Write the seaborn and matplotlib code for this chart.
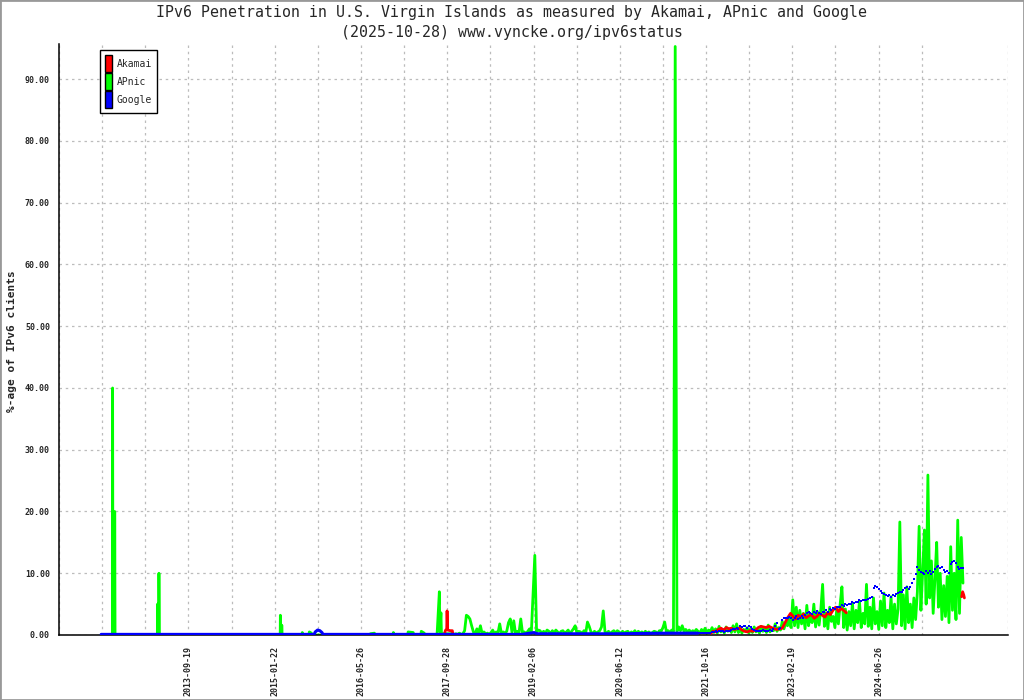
import pandas as pd
import matplotlib
matplotlib.use("Agg")
import matplotlib.pyplot as plt
import matplotlib.dates as mdates
from matplotlib.patches import Patch, Rectangle
from matplotlib.ticker import FormatStrFormatter
import seaborn as sns

# labelled dates on the x axis
tick_labels = ["2013-09-19", "2015-01-22", "2016-05-26", "2017-09-28", "2019-02-06",
               "2020-06-12", "2021-10-16", "2023-02-19", "2024-06-26"]

# APnic: early spikes read as daily points
apnic_early_dates = [
    "2012-05-10", "2012-07-13", "2012-07-14", "2012-07-16", "2012-07-25", "2012-07-26", "2012-07-28",
    "2013-03-26", "2013-03-27", "2013-03-29", "2013-04-03", "2013-04-04", "2013-04-06",
    "2015-02-24", "2015-02-25", "2015-02-27", "2015-03-04", "2015-03-05", "2015-03-07",
    "2015-06-28", "2015-06-30", "2015-07-03", "2015-08-07", "2015-08-09", "2015-08-21", "2015-08-24",
    "2016-07-20", "2016-07-22", "2016-08-14", "2016-08-17", "2016-11-28", "2016-11-30", "2016-12-03",
    "2017-02-20", "2017-02-22", "2017-03-23", "2017-03-26", "2017-05-06", "2017-05-08", "2017-05-25",
    "2017-05-28", "2017-08-05", "2017-08-07", "2017-08-19", "2017-08-22", "2017-08-28", "2017-08-31",
    "2017-10-20",
]
apnic_early_values = [
    0, 0, 40, 0, 0, 20, 0,
    0, 5, 0, 0, 10, 0,
    0, 3.2, 0.3, 0.3, 1.6, 0,
    0, 0.4, 0, 0, 0.5, 0.3, 0,
    0, 0.2, 0.3, 0, 0, 0.4, 0,
    0, 0.5, 0.4, 0, 0, 0.6, 0.3,
    0, 0, 0.6, 7.0, 0.5, 3.6, 0.2,
    0.2,
]

# APnic: 10-day samples from 2017-11-01 to 2025-10-28
apnic_grid_start = "2017-11-01"
apnic_grid_values = [
    0.3, 0.1, 0.2, 0.1, 0.3, 0.1, 0.2,
    0.7, 3.2, 3.0, 2.6, 1.5, 0.5,
    0.2, 1.0, 0.3, 1.5, 0.2, 0.5, 0.2,
    0.3, 0.1, 0.4, 0.8, 0.2, 0.5, 0.3, 1.8, 0.2, 0.5,
    0.3, 0.6, 2.0, 2.6, 0.4, 2.3, 0.3, 0.6, 0.4, 2.6,
    0.3, 0.5, 0.2, 0.6, 1.0, 0.3, 6.8, 12.9, 0.5, 0.8,
    0.7, 0.2, 0.6, 0.3, 0.8, 0.6, 0.2, 0.7, 0.3, 0.8,
    0.5, 0.2, 0.6, 0.7, 0.3, 0.5, 0.8, 0.2, 0.6, 1.0,
    1.5, 0.3, 0.6, 0.5, 0.2, 0.7, 0.3, 2.1, 1.4, 0.5,
    0.2, 0.6, 0.3, 0.5, 0.7, 1.3, 3.9, 0.5, 0.3, 0.6,
    0.2, 0.5, 0.7, 0.3, 0.7, 0.5, 0.2, 0.6, 0.3, 0.5,
    0.6, 0.2, 0.5, 0.3, 0.7, 0.2, 0.6, 0.3, 0.5, 0.2,
    0.6, 0.3, 0.5, 0.2, 0.4, 0.6, 0.5, 0.2, 0.7, 0.6,
    1.2, 2.1, 0.5, 0.7, 0.4, 0.8, 0.5, 95.3, 0.6, 1.3,
    0.7, 1.5, 0.6, 0.9, 0.5, 0.8, 0.4, 0.7, 0.5, 0.9,
    # 2021-09 onwards
    0.6, 0.3, 0.9, 0.4, 1.1, 0.3, 0.8, 0.5, 1.2,
    0.4, 1.0, 0.3, 1.4, 0.5, 0.9, 0.3, 1.3, 0.6, 1.0, 0.4, 1.5,
    0.5, 1.8, 0.4, 1.1, 0.3, 0.9, 0.6, 1.2, 0.3, 1.0,
    0.4, 1.3, 0.5, 0.9, 0.3, 1.4, 0.6, 1.1, 0.4, 1.6, 0.5, 1.0, 0.7, 1.8, 0.6, 1.2, 0.8, 2.2, 1.0, 2.0,
    1.5, 3.0, 1.2, 5.7, 1.5, 4.5,
    1.2, 4.0, 1.8, 3.5, 1.0, 4.8, 1.5, 3.2, 2.0, 5.0, 1.3, 3.8, 1.6, 4.2, 8.2, 1.4, 3.6, 1.0, 4.5, 2.2,
    3.0, 1.2, 4.0, 1.8,
    5.0, 7.8, 1.2, 4.2, 0.8, 3.8, 1.5, 5.2, 1.0, 4.0, 2.0, 5.5, 1.2, 3.5, 1.8,
    8.2, 1.4, 4.5, 1.0, 6.0, 1.8, 3.8, 0.9, 5.5, 1.5, 6.8, 1.2, 4.0, 2.0, 6.2, 1.0, 5.0, 1.8, 4.2, 18.3,
    1.5, 6.5, 1.0, 7.8, 2.0, 5.0, 1.2, 6.0, 2.5, 7.0,
    17.6, 4.0, 10.0, 17.0, 5.0, 25.9,
    6.0, 12.0, 3.5, 9.0, 15.0, 4.5, 10.0, 2.5, 8.0,
    3.0, 9.5, 2.0, 14.3, 4.0, 10.0, 2.5, 18.6, 3.5, 15.8, 8.4,
]

# Akamai
akamai_2017_dates = ["2017-09-18", "2017-09-22", "2017-09-30", "2017-10-02", "2017-10-05",
                     "2017-10-20", "2017-11-01", "2017-11-04"]
akamai_2017_values = [0.2, 0.7, 1.0, 3.9, 0.8, 0.7, 0.7, 0.1]

akamai_late_dates = [
    "2021-11-15", "2021-11-25", "2021-12-10", "2021-12-25", "2022-01-10", "2022-01-25", "2022-02-10",
    "2022-02-25", "2022-03-10", "2022-03-25", "2022-04-10", "2022-04-25", "2022-05-10", "2022-05-25",
    "2022-06-10", "2022-06-25", "2022-07-10", "2022-07-25", "2022-08-10", "2022-08-25", "2022-09-10",
    "2022-09-25", "2022-10-10", "2022-10-25", "2022-11-10", "2022-11-25", "2022-12-10", "2022-12-25",
    "2023-01-10", "2023-01-25", "2023-02-10", "2023-02-25", "2023-03-10", "2023-03-25", "2023-04-10",
    "2023-04-25", "2023-05-10", "2023-05-25", "2023-06-10", "2023-06-25", "2023-07-10", "2023-07-25",
    "2023-08-10", "2023-08-25", "2023-09-10", "2023-09-25", "2023-10-10", "2023-10-25", "2023-11-10",
    "2023-11-25", "2023-12-10", "2023-12-25",
]
akamai_late_values = [
    0.3, 0.6, 0.5, 0.9, 1.1, 0.8, 1.2,
    1.0, 1.1, 0.9, 1.0, 1.1, 0.8, 0.6,
    0.5, 0.7, 0.6, 0.8, 1.2, 1.4, 1.3,
    1.2, 1.4, 1.2, 1.0, 0.9, 1.0, 1.1,
    2.0, 2.8, 3.5, 3.0, 2.6, 3.2, 2.9,
    3.4, 2.8, 3.1, 3.3, 2.7, 3.0, 3.5,
    3.2, 2.9, 3.6, 3.3, 4.0, 4.5, 3.8,
    4.3, 4.0, 3.6,
]
akamai_end_dates = ["2025-10-12", "2025-10-18", "2025-10-24", "2025-10-28"]
akamai_end_values = [6.2, 7.0, 6.5, 6.0]

# Google
google_early_dates = ["2012-05-10", "2015-09-05", "2015-09-12", "2015-09-25", "2015-10-08",
                      "2015-10-20", "2015-10-26", "2018-12-01", "2019-02-10", "2019-03-01",
                      "2020-06-01", "2021-03-01", "2021-08-31"]
google_early_values = [0.1, 0.1, 0.5, 0.8, 0.7, 0.4, 0.1, 0.1, 0.4, 0.2, 0.2, 0.3, 0.3]

google_grid_start = "2021-09-01"
google_grid_values = [
    0.3, 0.3, 0.4, 0.3, 0.3, 0.4, 0.3, 0.4, 0.5,
    0.5, 0.6, 0.5, 0.6, 0.7, 0.6, 0.5, 0.6, 0.7, 0.6, 0.8, 0.9,
    1.0, 1.2, 1.0, 1.4, 1.3, 1.5, 1.4, 1.2, 1.5, 1.3,
    0.9, 0.8, 0.7, 0.7, 0.6, 0.7, 0.8, 0.7, 0.6, 0.7, 0.8, 0.7, 0.9, 1.5, 2.0, 1.0, 1.2, 2.5, 2.8, 2.7,
    2.8, 2.9, 2.7, 2.5, 2.8, 3.0,
    2.6, 2.8, 3.0, 2.7, 3.2, 3.5, 3.8, 3.6, 3.4, 3.7, 3.5, 3.9, 3.6, 3.4, 3.8, 3.7, 4.0, 3.8, 4.2, 4.0,
    4.4, 4.2, 4.6, 4.5,
    4.6, 4.8, 4.7, 5.0, 4.9, 5.1, 5.0, 5.3, 5.2, 5.4, 5.3, 5.6, 5.5, 5.7, 5.6,
    5.7, 5.8, 6.0, 6.2,
    7.6, 8.0, 7.8, 7.4, 7.2,
    6.8, 6.6, 6.5, 6.3, 6.4, 6.2, 6.5, 6.3, 6.6, 6.8, 7.0, 6.9,
    7.3, 7.6, 7.8, 7.5, 7.7, 8.5, 9.0, 9.8, 11.0,
    10.5, 10.2, 10.0, 9.8, 10.3, 10.1, 10.4, 9.9, 10.2,
    10.7, 11.0, 11.2, 10.8, 11.0, 10.5, 10.2,
    10.3, 10.0, 11.5, 11.8, 12.0, 11.6, 11.0, 10.7, 10.9, 10.8,
]

# build tables

def series(dates, values):
    return pd.DataFrame({"date": pd.to_datetime(dates), "value": values})


def grid_series(start, values):
    return pd.DataFrame({"date": pd.date_range(start, periods=len(values), freq="10D"), "value": values})


apnic = pd.concat([series(apnic_early_dates, apnic_early_values),
                   grid_series(apnic_grid_start, apnic_grid_values)], ignore_index=True)
akamai_parts = [series(akamai_2017_dates, akamai_2017_values),
                series(akamai_late_dates, akamai_late_values),
                series(akamai_end_dates, akamai_end_values)]
google_early = series(google_early_dates, google_early_values)
google_late = grid_series(google_grid_start, google_grid_values)

# plot

sns.set_style("white")
plt.rcParams["font.family"] = ["DejaVu Sans Mono"]

GREEN, RED, BLUE = "#00ff00", "#ff0000", "#0000ff"

fig = plt.figure(figsize=(10.24, 7.0), dpi=100)
ax = fig.add_axes([59 / 1024, 65 / 700, 949 / 1024, 591 / 700])

sns.lineplot(data=apnic, x="date", y="value", color=GREEN, linewidth=2.0, estimator=None, ax=ax, zorder=2)
for part in akamai_parts:
    sns.lineplot(data=part, x="date", y="value", color=RED, linewidth=2.0, estimator=None, ax=ax, zorder=3)
sns.lineplot(data=google_early, x="date", y="value", color=BLUE, linewidth=2.2, estimator=None, ax=ax, zorder=4)
sns.scatterplot(data=google_late, x="date", y="value", color=BLUE, marker="s", s=4.5, linewidth=0, ax=ax, zorder=4)

# x axis: labelled ticks plus one unlabelled tick between each pair
first = pd.Timestamp(tick_labels[0])
last = pd.Timestamp(tick_labels[-1])
step = (last - first) / (len(tick_labels) - 1)
major = [first + step * k for k in range(len(tick_labels))]
minor = [first + step * (k / 2) for k in range(-3, 2 * (len(tick_labels) - 1) + 4) if k % 2 != 0 or k < 0]
ax.set_xlim(mdates.date2num(first - step * 1.5), mdates.date2num(last + step * 1.5))
ax.set_xticks(mdates.date2num(major))
ax.set_xticklabels(tick_labels, rotation=90)
ax.set_xticks(mdates.date2num(minor), minor=True)

ax.set_ylim(0, 95.7)
ax.set_yticks(range(0, 100, 10))
ax.yaxis.set_major_formatter(FormatStrFormatter("%.2f"))

ax.set_xlabel("")
ax.set_ylabel("")
ax.set_axisbelow(True)
ax.grid(axis="x", which="both", color="#bcbcbc", linestyle=(0, (2, 3)), linewidth=0.9)
ax.grid(axis="y", which="major", color="#bcbcbc", linestyle=(0, (2, 3)), linewidth=0.9)

for side in ["top", "right"]:
    ax.spines[side].set_visible(False)
for side in ["left", "bottom"]:
    ax.spines[side].set_color("black")
    ax.spines[side].set_linewidth(1.1)

ax.tick_params(axis="y", direction="inout", length=7, width=1.1, labelsize=6, pad=3, color="black")
ax.tick_params(axis="x", which="both", direction="out", length=5, width=1.1, labelsize=6, pad=3, color="black")
for lbl in ax.get_xticklabels() + ax.get_yticklabels():
    lbl.set_fontweight("bold")

fig.text(0.5, 1 - 13 / 700, "IPv6 Penetration in U.S. Virgin Islands as measured by Akamai, APnic and Google",
         ha="center", va="center", fontsize=10.75)
fig.text(0.5, 1 - 32 / 700, "(2025-10-28) www.vyncke.org/ipv6status", ha="center", va="center", fontsize=10.75)
fig.text(12 / 1024, 1 - 341 / 700, "%-age of IPv6 clients", rotation=90, ha="center", va="center",
         fontsize=8, fontweight="bold")

handles = [Patch(facecolor=RED, edgecolor="black", label="Akamai"),
           Patch(facecolor=GREEN, edgecolor="black", label="APnic"),
           Patch(facecolor=BLUE, edgecolor="black", label="Google")]
leg = ax.legend(handles=handles, loc="upper left", bbox_to_anchor=(100 / 1024, 1 - 50 / 700),
                bbox_transform=fig.transFigure, borderaxespad=0, fancybox=False, framealpha=1,
                edgecolor="black", fontsize=7, handlelength=0.65, handleheight=2.3,
                handletextpad=0.5, labelspacing=0.1, borderpad=0.55)
leg.get_frame().set_linewidth(1.0)

fig.patches.append(Rectangle((0, 0), 1, 1, transform=fig.transFigure, fill=False,
                             edgecolor="#999999", linewidth=2))

fig.savefig("out.png", dpi=100)
